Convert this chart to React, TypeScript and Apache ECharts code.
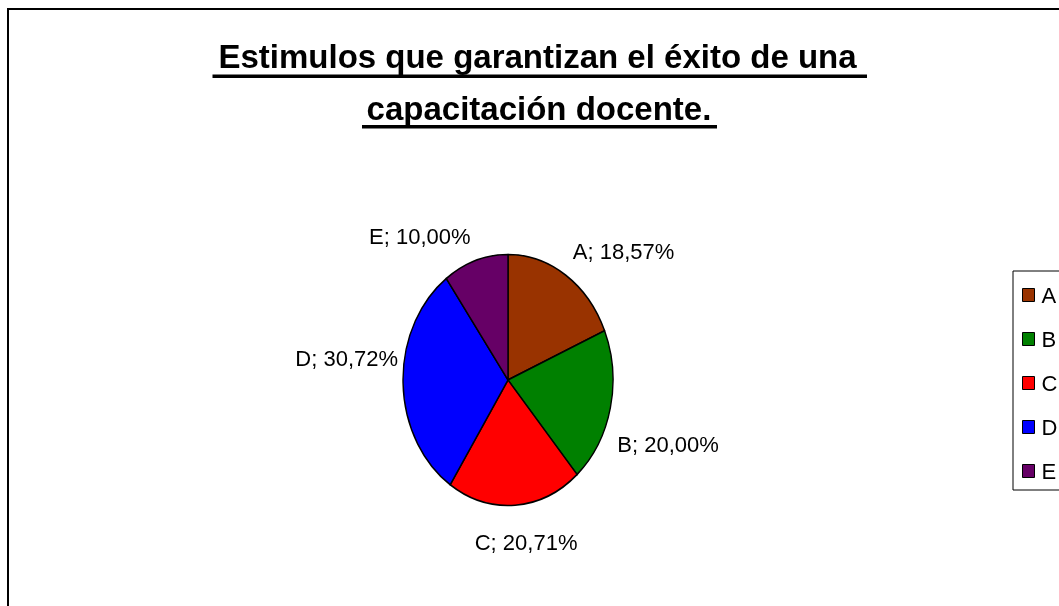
import React, { useEffect, useRef } from "react";
import * as echarts from "echarts";

const categories = ["A", "B", "C", "D", "E"];
const percentages = [18.57, 20.0, 20.71, 30.72, 10.0];
const colors = ["#993300", "#008000", "#FF0000", "#0000FF", "#660066"];
const titleLines = ["Estimulos que garantizan el éxito de una", "capacitación docente."];

const FONT = "'Liberation Sans', Arial, Helvetica, sans-serif";
const CX = 508;
const CY = 380;
const RX = 105;
const RY = 125.5;

const fmt = (v: number) => v.toFixed(2).replace(".", ",") + "%";

export default function App() {
  const pieRef = useRef<HTMLDivElement>(null);
  const mainRef = useRef<HTMLDivElement>(null);

  useEffect(() => {
    const pieChart = echarts.init(pieRef.current!, undefined, { renderer: "svg" });
    const mainChart = echarts.init(mainRef.current!, undefined, { renderer: "svg" });

    const data = categories.map((name, i) => ({ name, value: percentages[i] }));

    pieChart.setOption({
      animation: false,
      series: [
        {
          type: "pie",
          center: [CX, CY],
          radius: RX,
          startAngle: 90,
          clockwise: true,
          silent: true,
          label: { show: false },
          labelLine: { show: false },
          itemStyle: { borderColor: "#000", borderWidth: 1.4 },
          data: data.map((d, i) => ({ ...d, itemStyle: { color: colors[i] } })),
        },
      ],
    });

    const total = percentages.reduce((a, b) => a + b, 0);
    const midAngles = percentages.map((v, i) => {
      const before = percentages.slice(0, i).reduce((a, b) => a + b, 0);
      return ((before + v / 2) / total) * 2 * Math.PI;
    });

    mainChart.setOption({
      animation: false,
      graphic: [
        {
          type: "rect",
          shape: { x: 8, y: 9, width: 1400, height: 1000 },
          style: { fill: "none", stroke: "#000", lineWidth: 2 },
          silent: true,
        },
        {
          type: "text",
          x: 537.5,
          y: 56.6,
          style: {
            text: titleLines[0],
            font: `bold 33px ${FONT}`,
            fill: "#000",
            align: "center",
            verticalAlign: "middle",
          },
        },
        {
          type: "text",
          x: 539,
          y: 108.6,
          style: {
            text: titleLines[1],
            font: `bold 33px ${FONT}`,
            fill: "#000",
            align: "center",
            verticalAlign: "middle",
          },
        },
        {
          type: "rect",
          shape: { x: 212.5, y: 74.5, width: 654.5, height: 3.5 },
          style: { fill: "#000" },
          silent: true,
        },
        {
          type: "rect",
          shape: { x: 362, y: 125, width: 355, height: 3.5 },
          style: { fill: "#000" },
          silent: true,
        },
      ],
      legend: {
        orient: "vertical",
        left: 1013,
        top: 271,
        padding: [13, 40, 8, 9],
        itemWidth: 12,
        itemHeight: 13,
        itemGap: 22,
        icon: "rect",
        borderColor: "#000",
        borderWidth: 1,
        selectedMode: false,
        textStyle: {
          fontFamily: FONT,
          fontSize: 22,
          lineHeight: 22,
          color: "#000",
          padding: [0, 0, 0, 2],
        },
        data: categories.map((name, i) => ({
          name,
          itemStyle: { color: colors[i], borderColor: "#000", borderWidth: 1 },
        })),
      },
      series: [
        {
          type: "pie",
          center: [CX, CY],
          radius: RX,
          startAngle: 90,
          clockwise: true,
          silent: true,
          itemStyle: { color: "rgba(0,0,0,0)", borderWidth: 0 },
          label: {
            show: true,
            position: "outside",
            color: "#000",
            fontFamily: FONT,
            fontSize: 22,
            formatter: (p: any) => `${p.name}; ${fmt(p.value)}`,
          },
          labelLine: { show: false },
          labelLayout: (p: any) => {
            const t = midAngles[p.dataIndex];
            const s = Math.sin(t);
            const c = Math.cos(t);
            const px = CX + RX * s;
            const py = CY - RY * c;
            let align = "left";
            let x = px + 7;
            if (Math.abs(s) < 0.3) {
              align = "center";
              x = px + 11;
            } else if (s < 0) {
              align = "right";
              x = px - 5;
            }
            const y = c > -0.05 ? py - 24 : py + 37;
            return { x, y, align, verticalAlign: "middle" };
          },
          data: data.map((d, i) => ({ ...d, legendColor: colors[i] })),
        },
      ],
    });

    return () => {
      pieChart.dispose();
      mainChart.dispose();
    };
  }, []);

  return (
    <div>
      <div
        ref={pieRef}
        style={{
          position: "fixed",
          left: 0,
          top: 0,
          width: 1059,
          height: 606,
          transform: `scaleY(${RY / RX})`,
          transformOrigin: `${CX}px ${CY}px`,
        }}
      />
      <div
        ref={mainRef}
        style={{ position: "fixed", left: 0, top: 0, width: 1059, height: 606 }}
      />
    </div>
  );
}
